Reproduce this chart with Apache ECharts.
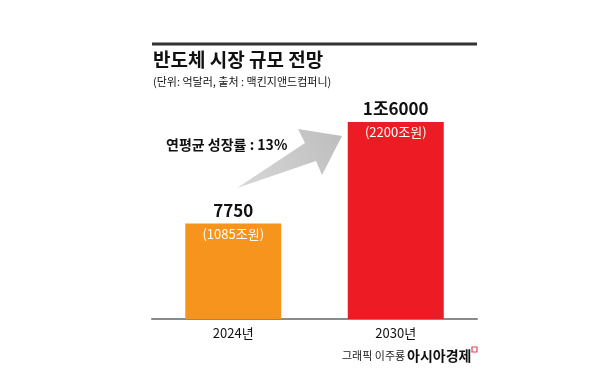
<!DOCTYPE html>
<html><head><meta charset="utf-8">
<script src="https://cdn.jsdelivr.net/npm/echarts@6/dist/echarts.min.js"></script>
<style>html,body{margin:0;padding:0;background:#fff}#c{width:608px;height:380px}</style>
</head><body><div id="c"></div>
<script>
const categories = ['2024년', '2030년'];
const values = [7750, 16000];
const valueLabels = ['7750', '1조6000'];
const wonLabels = ['(1085조원)', '(2200조원)'];
const barColors = ['#f7941d', '#ed1c24'];
const titleText = '반도체 시장 규모 전망';
const subtitleText = '(단위: 억달러, 출처 : 맥킨지앤드컴퍼니)';
const growthText = '연평균 성장률 : 13%';

const FONT = '"Noto Sans CJK KR", "Noto Sans", sans-serif';
const chart = echarts.init(document.getElementById('c'), null, {renderer: 'canvas'});
chart.setOption({
  animation: false,
  backgroundColor: '#fff',
  grid: {left: 152, right: 131, top: 122, bottom: 61},
  xAxis: {
    type: 'category', data: categories,
    axisLine: {lineStyle: {color: '#8a8a8a', width: 2}},
    axisTick: {show: false},
    axisLabel: {color: '#111', fontSize: 13, fontFamily: FONT, margin: 8}
  },
  yAxis: {type: 'value', min: 0, max: 16000, show: false, splitLine: {show: false}},
  series: [
    {
      type: 'bar', barWidth: 96,
      data: values.map((v, i) => ({value: v, itemStyle: {color: barColors[i]}})),
      label: {
        show: true, position: 'top', distance: 5,
        formatter: p => valueLabels[p.dataIndex],
        color: '#111', fontSize: 17, fontWeight: 'bold', fontFamily: FONT
      }
    },
    {
      type: 'bar', barWidth: 96, barGap: '-100%',
      data: values,
      itemStyle: {color: 'rgba(0,0,0,0)'},
      label: {
        show: true, position: 'insideTop', distance: 4,
        formatter: p => wonLabels[p.dataIndex],
        color: '#fff', fontSize: 13, fontFamily: FONT
      }
    }
  ],
  graphic: [
    {type: 'line', shape: {x1: 152, y1: 44, x2: 477, y2: 44}, style: {stroke: '#333', lineWidth: 3}},
    {type: 'text', x: 153, y: 60, style: {text: titleText, fill: '#111', font: 'bold 19px ' + FONT, textVerticalAlign: 'middle'}},
    {type: 'text', x: 153, y: 82, style: {text: subtitleText, fill: '#111', font: '11px ' + FONT, textVerticalAlign: 'middle'}},
    {type: 'polygon', z: 1, shape: {points: [[237, 188], [305, 143], [298, 129], [342, 136], [322, 175], [316, 161]]},
      style: {fill: {type: 'linear', x: 0, y: 1, x2: 1, y2: 0, colorStops: [{offset: 0, color: '#d8d8d8'}, {offset: 1, color: '#bdbdbd'}]}}},
    {type: 'text', x: 166, y: 145, style: {text: growthText, fill: '#111', font: 'bold 14px ' + FONT, textVerticalAlign: 'middle'}},
    {type: 'text', x: 342, y: 356, style: {text: '그래픽 이주룡', fill: '#222', font: '11px ' + FONT, textVerticalAlign: 'middle'}},
    {type: 'text', x: 407, y: 356, style: {text: '아시아경제', fill: '#111', font: 'bold 14px ' + FONT, textVerticalAlign: 'middle'}},
    {type: 'rect', shape: {x: 472, y: 347, width: 5, height: 5}, style: {fill: 'none', stroke: '#e8435a', lineWidth: 1.2}}
  ]
});
</script></body></html>
